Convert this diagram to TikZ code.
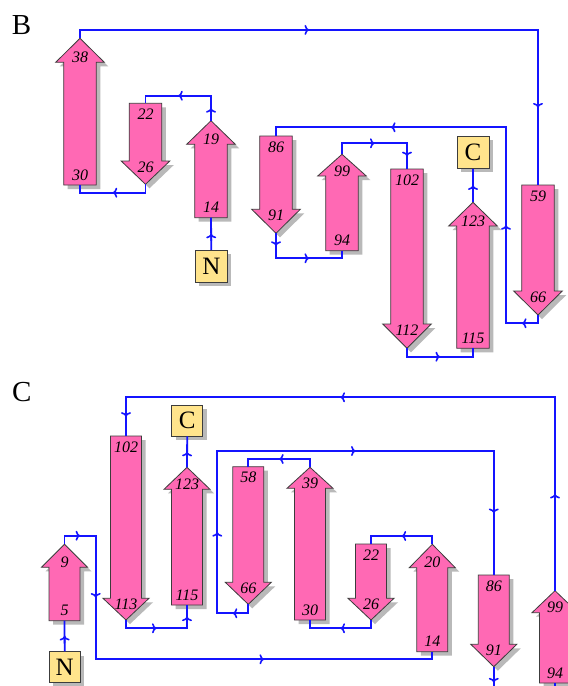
\documentclass[tikz,border=0pt]{standalone}
\usepackage{fontspec}
\setmainfont{Liberation Serif}
\usetikzlibrary{calc,decorations.pathreplacing,arrows.meta,shadows}
\definecolor{strandpink}{RGB}{255,105,180}
\definecolor{shcol}{RGB}{185,185,185}
\definecolor{boxyellow}{RGB}{255,228,140}
\definecolor{linkblue}{RGB}{20,20,255}
\definecolor{edgegray}{RGB}{60,60,60}
\tikzset{
  strand/.style={fill=strandpink, draw=edgegray, line width=0.8pt, line join=miter},
  strandshadow/.style={fill=shcol, shift={(4pt,-4pt)}},
  lab/.style={font=\fontsize{16}{16}\selectfont\itshape, inner sep=0pt},
  termbox/.style={draw=edgegray, fill=boxyellow, line width=0.8pt,
    minimum width=32pt, minimum height=32pt, inner sep=0pt,
    font=\fontsize{25}{25}\selectfont,
    drop shadow={shadow xshift=4pt, shadow yshift=-4pt, fill=shcol, opacity=1}},
  panel/.style={font=\fontsize{29}{29}\selectfont, inner sep=0pt},
  arrowmarks/.style={decorate, decoration={show path construction,
     lineto code={%
       \pgfpointdiff{\pgfpointdecoratedinputsegmentfirst}{\pgfpointdecoratedinputsegmentlast}%
       \pgfgetlastxy{\segdx}{\segdy}%
       \pgfmathveclen{\segdx}{\segdy}%
       \ifdim\pgfmathresult pt>15pt
         \draw[linkblue, line width=1.6pt, -{To[length=4.5pt,width=10pt]}]
           ($(\tikzinputsegmentfirst)!0.5!(\tikzinputsegmentlast)!7pt!(\tikzinputsegmentfirst)$)
           -- ($(\tikzinputsegmentfirst)!0.5!(\tikzinputsegmentlast)$);
       \fi}}},
  conn/.style={draw=linkblue, line width=1.8pt},
}
\newcommand\link[1]{\draw[conn] #1; \path[arrowmarks] #1;}
\def\sHB{16.3}
\def\sHH{24.3}
% cx, y flat end, y head base, y tip
\newcommand\strandshape[4]{({#1-\sHB},#2) -- ({#1-\sHB},#3) -- ({#1-\sHH},#3) -- (#1,#4) -- ({#1+\sHH},#3) -- ({#1+\sHB},#3) -- ({#1+\sHB},#2) -- cycle}
\newcommand\upstrand[7]{%
  \fill[strandshadow] \strandshape{#2}{#3}{#4}{#5};
  \draw[strand] \strandshape{#2}{#3}{#4}{#5};
  \coordinate (#1-tail) at (#2,#3);
  \coordinate (#1-tip) at (#2,#5);
  \node[lab] (#1-a) at (#2,{#4-5}) {#6};
  \node[lab] (#1-b) at (#2,{#3-10}) {#7};
}
\newcommand\downstrand[7]{%
  \fill[strandshadow] \strandshape{#2}{#3}{#4}{#5};
  \draw[strand] \strandshape{#2}{#3}{#4}{#5};
  \coordinate (#1-tail) at (#2,#3);
  \coordinate (#1-tip) at (#2,#5);
  \node[lab] (#1-a) at (#2,{#3+11}) {#6};
  \node[lab] (#1-b) at (#2,{#4+6}) {#7};
}
\begin{document}
\begin{tikzpicture}[x=1pt,y=-1pt]
\useasboundingbox (0,0) rectangle (568,686);
\clip (0,0) rectangle (568,686);
\fill[white] (0,0) rectangle (568,686);

% ---------------- Panel B ----------------
\node[panel] (labB) at (21.5,25.5) {B};
\def\sHB{16.3}\def\sHH{24.3}
\upstrand{b38}{80}{185}{62.3}{38.3}{38}{30}
\downstrand{b22}{145.5}{103.3}{161}{184.3}{22}{26}
\upstrand{b19}{211}{217.7}{144.3}{120.7}{19}{14}
\downstrand{b86}{276}{136}{209.3}{233.3}{86}{91}
\upstrand{b99}{342}{250.7}{176}{154.3}{99}{94}
\downstrand{b102}{407}{169}{324}{348.3}{102}{112}
\upstrand{b123}{473}{348.3}{226}{202.3}{123}{115}
\downstrand{b59}{538}{185}{291}{315}{59}{66}
\node[termbox] (bN) at (211.3,266.3) {N};
\node[termbox] (bC) at (473,152.2) {C};

\link{(bN.north) -- (b19-tail)}
\link{(b19-tip) |- (145.5,95.7) -- (b22-tail)}
\link{(b22-tip) |- (80,192.7) -- (b38-tail)}
\link{(b38-tip) |- (538,29.9) -- (b59-tail)}
\link{(b59-tip) |- (506,323.3) |- (276,127.3) -- (b86-tail)}
\link{(b86-tip) |- (342,258.3) -- (b99-tail)}
\link{(b99-tip) |- (407,143.3) -- (b102-tail)}
\link{(b102-tip) |- (473,356.7) -- (b123-tail)}
\link{(b123-tip) -- (bC.south)}

% ---------------- Panel C ----------------
\node[panel] (labC) at (21.7,392) {C};
\def\sHB{15.5}\def\sHH{23}
\upstrand{c9}{64.5}{620.7}{567.3}{544.3}{9}{5}
\downstrand{c102}{126}{436}{598.3}{620}{102}{113}
\upstrand{c123}{187}{605}{489.3}{467.3}{123}{115}
\downstrand{c58}{248.3}{466.7}{582.3}{604.3}{58}{66}
\upstrand{c39}{310}{620}{488.3}{467.3}{39}{30}
\downstrand{c22}{371}{544}{598.3}{620}{22}{26}
\upstrand{c20}{432.3}{651.7}{567.7}{544.3}{20}{14}
\downstrand{c86}{493.8}{575}{644.3}{666.7}{86}{91}
\upstrand{c99}{555}{683}{612.7}{590.7}{99}{94}
\node[termbox, minimum width=31pt, minimum height=31pt] (cC) at (187.2,420.5) {C};
\node[termbox, minimum width=31pt, minimum height=31pt] (cN) at (64.7,667.2) {N};

\coordinate (cout) at (493.8,698);
\coordinate (cin) at (555,693);
\link{(cN.north) -- (c9-tail)}
\link{(c9-tip) |- (95.7,535.7) |- (432.3,659.3) -- (c20-tail)}
\link{(c20-tip) |- (371,536) -- (c22-tail)}
\link{(c22-tip) |- (310,628.3) -- (c39-tail)}
\link{(c39-tip) |- (248.3,459) -- (c58-tail)}
\link{(c58-tip) |- (217.3,613.3) |- (493.8,451) -- (c86-tail)}
\link{(c86-tip) -- (cout)}
\link{(cin) -- (c99-tail)}
\link{(c99-tip) |- (126,397.3) -- (c102-tail)}
\link{(c102-tip) |- (187,628.3) -- (c123-tail)}
\link{(c123-tip) -- (cC.south)}
\end{tikzpicture}
\end{document}
